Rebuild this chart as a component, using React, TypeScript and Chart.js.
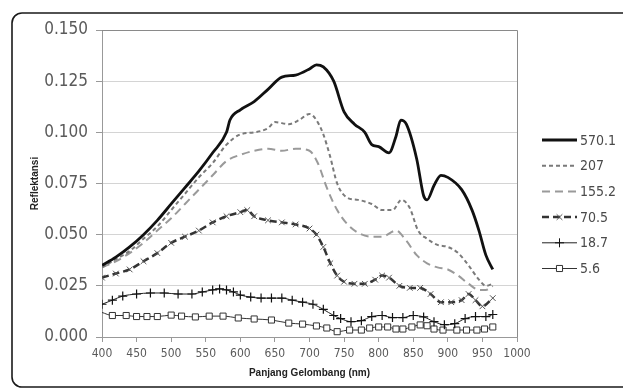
import React, { useEffect, useRef } from "react";
import { Chart, registerables } from "chart.js";

Chart.register(...registerables);

const seriesLabels = ["570.1", "207", "155.2", "70.5", "18.7", "5.6"];

const wl570 = [400, 420, 440, 460, 480, 500, 520, 540, 560, 580, 585, 600, 620, 640, 660, 680, 700, 710, 720, 735, 750, 765, 780, 790, 800, 815, 825, 832, 840, 855, 865, 870, 880, 890, 900, 920, 935, 945, 955, 965];
const r570 = [0.035, 0.039, 0.044, 0.050, 0.057, 0.065, 0.073, 0.081, 0.090, 0.100, 0.106, 0.111, 0.115, 0.121, 0.127, 0.128, 0.131, 0.133, 0.132, 0.125, 0.110, 0.104, 0.100, 0.094, 0.093, 0.090, 0.098, 0.106, 0.104, 0.087, 0.069, 0.067, 0.074, 0.079, 0.078, 0.072, 0.062, 0.052, 0.040, 0.033];

const wl207 = [400, 420, 440, 460, 480, 500, 520, 540, 560, 580, 600, 620, 640, 650, 670, 685, 700, 710, 720, 730, 740, 755, 770, 790, 805, 820, 833, 845, 857, 870, 885, 900, 915, 930, 945, 955, 965];
const r207 = [0.034, 0.038, 0.042, 0.048, 0.054, 0.062, 0.070, 0.078, 0.085, 0.094, 0.099, 0.100, 0.102, 0.105, 0.104, 0.106, 0.109, 0.106, 0.099, 0.088, 0.075, 0.068, 0.067, 0.065, 0.062, 0.062, 0.067, 0.063, 0.052, 0.048, 0.045, 0.044, 0.041, 0.035, 0.028, 0.025, 0.026];

const wl155 = [400, 420, 440, 460, 480, 500, 520, 540, 560, 580, 600, 620, 640, 660, 680, 700, 712, 725, 740, 755, 770, 790, 805, 825, 840, 855, 870, 885, 900, 915, 930, 945, 955, 965];
const r155 = [0.034, 0.037, 0.041, 0.046, 0.052, 0.058, 0.065, 0.072, 0.079, 0.086, 0.089, 0.091, 0.092, 0.091, 0.092, 0.091, 0.085, 0.073, 0.062, 0.055, 0.051, 0.049, 0.049, 0.052, 0.047, 0.040, 0.036, 0.034, 0.033, 0.030, 0.026, 0.023, 0.023, 0.025];

const wl70 = [400, 420, 440, 460, 480, 500, 520, 540, 560, 580, 600, 610, 620, 640, 660, 680, 700, 710, 720, 730, 740, 750, 765, 780, 795, 805, 815, 830, 845, 860, 875, 890, 905, 920, 930, 940, 950, 965];
const r70 = [0.029, 0.031, 0.033, 0.037, 0.041, 0.046, 0.049, 0.052, 0.056, 0.059, 0.061, 0.062, 0.059, 0.057, 0.056, 0.055, 0.053, 0.050, 0.044, 0.036, 0.030, 0.027, 0.026, 0.026, 0.028, 0.030, 0.029, 0.025, 0.024, 0.024, 0.021, 0.017, 0.017, 0.018, 0.021, 0.018, 0.015, 0.019];

const wl18 = [400, 415, 430, 450, 470, 490, 510, 530, 545, 560, 570, 580, 590, 600, 615, 630, 645, 660, 675, 690, 705, 720, 735, 745, 760, 775, 790, 805, 820, 835, 850, 865, 880, 895, 910, 925, 940, 955, 965];
const r18 = [0.016, 0.018, 0.020, 0.021, 0.0215, 0.0215, 0.021, 0.021, 0.022, 0.023, 0.0235, 0.023, 0.022, 0.0205, 0.0195, 0.019, 0.019, 0.019, 0.018, 0.017, 0.016, 0.0135, 0.0105, 0.009, 0.0075, 0.008, 0.010, 0.0105, 0.0095, 0.0095, 0.0105, 0.0098, 0.0075, 0.006, 0.0065, 0.009, 0.010, 0.010, 0.011];

const wl5 = [400, 415, 435, 450, 465, 480, 500, 515, 535, 555, 575, 597, 620, 645, 670, 690, 710, 725, 740, 758, 775, 787, 800, 813, 825, 835, 848, 860, 870, 880, 893, 913, 927, 942, 953, 965];
const r5 = [0.012, 0.0105, 0.0105, 0.010, 0.010, 0.010, 0.0107, 0.0102, 0.0098, 0.0102, 0.0102, 0.0093, 0.0088, 0.0083, 0.0068, 0.0063, 0.0054, 0.0044, 0.0026, 0.0034, 0.0034, 0.0044, 0.0049, 0.0049, 0.0039, 0.0039, 0.0049, 0.0059, 0.0055, 0.0039, 0.0034, 0.0034, 0.0034, 0.0034, 0.0039, 0.0049];

const xTicks = [400, 450, 500, 550, 600, 650, 700, 750, 800, 850, 900, 950, 1000];
const yTicks = [0, 0.025, 0.05, 0.075, 0.1, 0.125, 0.15];

const FONT = "'Liberation Sans Narrow', 'Arial Narrow', 'DejaVu Sans Condensed', 'Liberation Sans', sans-serif";

const pts = (xs: number[], ys: number[]) => xs.map((x, i) => ({ x, y: ys[i] }));

type Marker = { style: string; radius: number } | null;
const markers: Marker[] = [null, null, null, { style: "crossRot", radius: 4 }, { style: "cross", radius: 4.5 }, { style: "rect", radius: 4.3 }];

function drawMarker(ctx: CanvasRenderingContext2D, style: string, r: number, x: number, y: number) {
  ctx.beginPath();
  if (style === "cross") {
    ctx.moveTo(x - r, y); ctx.lineTo(x + r, y);
    ctx.moveTo(x, y - r); ctx.lineTo(x, y + r);
    ctx.stroke();
  } else if (style === "crossRot") {
    const o = r * Math.SQRT1_2;
    ctx.moveTo(x - o, y - o); ctx.lineTo(x + o, y + o);
    ctx.moveTo(x - o, y + o); ctx.lineTo(x + o, y - o);
    ctx.stroke();
  } else if (style === "rect") {
    const s = r * Math.SQRT1_2;
    ctx.rect(x - s, y - s, 2 * s, 2 * s);
    ctx.fill();
    ctx.stroke();
  }
}

const framePlugin = {
  id: "frame",
  beforeDraw(chart: any) {
    const { ctx, width, height } = chart;
    ctx.save();
    ctx.fillStyle = "#ffffff";
    ctx.fillRect(0, 0, width, height);
    ctx.strokeStyle = "#1a1a1a";
    ctx.lineWidth = 1.6;
    const x = 12, y = 13, w = width + 20 - x, h = 387 - y, rr = 10;
    ctx.beginPath();
    ctx.moveTo(x + rr, y);
    ctx.lineTo(x + w, y);
    ctx.moveTo(x + w, y + h);
    ctx.lineTo(x + rr, y + h);
    ctx.arcTo(x, y + h, x, y + h - rr, rr);
    ctx.lineTo(x, y + rr);
    ctx.arcTo(x, y, x + rr, y, rr);
    ctx.stroke();
    ctx.restore();
  },
  afterDatasetsDraw(chart: any) {
    const { ctx, chartArea } = chart;
    ctx.save();
    ctx.strokeStyle = "#8a8a8a";
    ctx.lineWidth = 1;
    ctx.beginPath();
    ctx.moveTo(chartArea.left, chartArea.top + 0.5);
    ctx.lineTo(chartArea.right + 0.5, chartArea.top + 0.5);
    ctx.lineTo(chartArea.right + 0.5, chartArea.bottom);
    ctx.stroke();
    ctx.restore();
  },
};

const legendPlugin = {
  id: "customLegend",
  afterDraw(chart: any) {
    const { ctx, chartArea } = chart;
    const x0 = chartArea.right + 25;
    const x1 = x0 + 35;
    chart.data.datasets.forEach((ds: any, i: number) => {
      const y = chartArea.top + 110 + i * 25.7;
      ctx.save();
      ctx.strokeStyle = ds.borderColor;
      ctx.lineWidth = ds.borderWidth;
      ctx.setLineDash(ds.borderDash || []);
      ctx.beginPath();
      ctx.moveTo(x0, y);
      ctx.lineTo(x1, y);
      ctx.stroke();
      ctx.setLineDash([]);
      const m = markers[i];
      if (m) {
        ctx.lineWidth = 1;
        ctx.strokeStyle = ds.pointBorderColor;
        ctx.fillStyle = "#ffffff";
        drawMarker(ctx, m.style, m.radius, (x0 + x1) / 2, y);
      }
      ctx.fillStyle = "#4a4a4a";
      ctx.font = `14px ${FONT}`;
      ctx.textBaseline = "middle";
      ctx.textAlign = "left";
      ctx.fillText(ds.label, x1 + 3, y + 1);
      ctx.restore();
    });
  },
};

export default function App() {
  const ref = useRef<HTMLCanvasElement | null>(null);
  useEffect(() => {
    if (!ref.current) return;
    const mk = (i: number) => markers[i];
    const chart = new Chart(ref.current, {
      type: "line",
      data: {
        datasets: [
          { label: seriesLabels[0], data: pts(wl570, r570), borderColor: "#111", borderWidth: 2.8, pointRadius: 0 },
          { label: seriesLabels[1], data: pts(wl207, r207), borderColor: "#7a7a7a", borderWidth: 2, borderDash: [4, 3], pointRadius: 0 },
          { label: seriesLabels[2], data: pts(wl155, r155), borderColor: "#9a9a9a", borderWidth: 2, borderDash: [8, 5], pointRadius: 0 },
          { label: seriesLabels[3], data: pts(wl70, r70), borderColor: "#333", borderWidth: 2.5, borderDash: [7, 4], pointStyle: "crossRot", pointRadius: mk(3)!.radius, pointBorderColor: "#555", pointBorderWidth: 1, pointBackgroundColor: "#555" },
          { label: seriesLabels[4], data: pts(wl18, r18), borderColor: "#222", borderWidth: 1, pointStyle: "cross", pointRadius: mk(4)!.radius, pointBorderColor: "#111", pointBorderWidth: 1.2 },
          { label: seriesLabels[5], data: pts(wl5, r5), borderColor: "#333", borderWidth: 1, pointStyle: "rect", pointRadius: (c: any) => (c.dataIndex === 0 ? 0 : mk(5)!.radius), pointBorderColor: "#333", pointBorderWidth: 1, pointBackgroundColor: "#fff" },
        ] as any,
      },
      options: {
        animation: false,
        responsive: true,
        maintainAspectRatio: false,
        layout: { padding: { left: 0, top: 30, right: 106, bottom: 0 } },
        elements: { line: { cubicInterpolationMode: "monotone", fill: false } },
        plugins: { legend: { display: false }, tooltip: { enabled: false } },
        scales: {
          x: {
            type: "linear",
            min: 400,
            max: 1000,
            afterBuildTicks: (s: any) => { s.ticks = xTicks.map((v) => ({ value: v })); },
            afterFit: (s: any) => { s.height = 53; },
            grid: { drawOnChartArea: false, drawTicks: true, tickLength: 5, tickColor: "#999" },
            border: { display: true, color: "#999", width: 1 },
            ticks: { color: "#5a5a5a", font: { family: FONT, size: 12 }, padding: 5, maxRotation: 0, autoSkip: false, callback: (v: any) => String(v) },
            title: { display: true, text: "Panjang Gelombang (nm)", color: "#222", font: { family: "'Liberation Sans', Arial, sans-serif", size: 10, weight: "bold" }, padding: { top: 0, bottom: 11 } },
          },
          y: {
            min: 0,
            max: 0.15,
            afterBuildTicks: (s: any) => { s.ticks = yTicks.map((v) => ({ value: v })); },
            afterFit: (s: any) => { s.width = 102; },
            grid: { color: "#d4d4d4", lineWidth: 1, drawTicks: true, tickLength: 6, tickColor: "#999" },
            border: { display: true, color: "#999", width: 1 },
            ticks: { color: "#5a5a5a", font: { family: FONT, size: 17 }, padding: 8, callback: (v: any) => Number(v).toFixed(3) },
            title: { display: true, text: "Reflektansi", color: "#222", font: { family: "'Liberation Sans', Arial, sans-serif", size: 10, weight: "bold" }, padding: { top: 29, bottom: 0 } },
          },
        },
      } as any,
      plugins: [framePlugin, legendPlugin],
    });
    return () => chart.destroy();
  }, []);
  return (
    <div style={{ position: "absolute", left: 0, top: 0, width: 623, height: 390 }}>
      <canvas ref={ref} />
    </div>
  );
}
